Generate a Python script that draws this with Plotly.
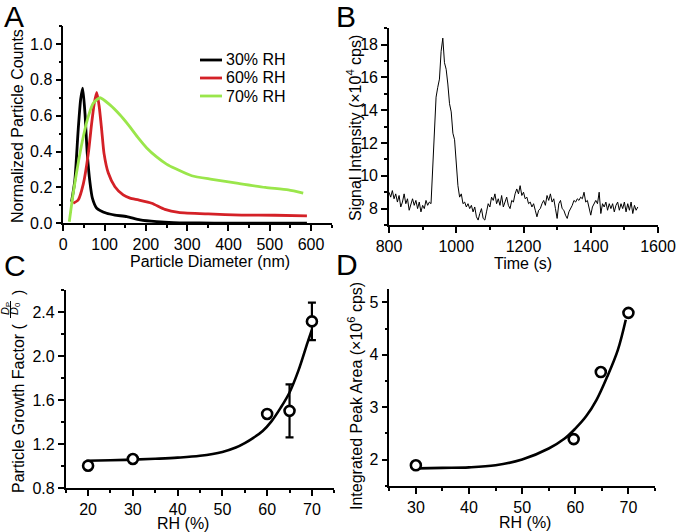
import plotly.graph_objects as go

W, H = 677, 532
FONT = "Arial, Liberation Sans, sans-serif"

# ---------------- Panel A: size distributions ----------------
diam_30 = [20, 28, 36, 42, 47, 52.6, 58, 64.7, 70.4, 81, 105, 125, 154, 186, 226, 267, 330, 400, 480, 590]
counts_30 = [0.12, 0.24, 0.52, 0.69, 0.754, 0.61, 0.39, 0.225, 0.14, 0.084, 0.056, 0.046, 0.037, 0.019, 0.009, 0.004, 0.002, 0.001, 0.001, 0.001]

diam_60 = [24, 36, 48.5, 60.6, 68.8, 75, 81, 87, 93, 98.6, 109, 125, 145, 161.6, 182, 214, 246, 279, 351, 432, 513, 590]
counts_60 = [0.112, 0.13, 0.22, 0.39, 0.56, 0.67, 0.73, 0.65, 0.52, 0.39, 0.28, 0.204, 0.158, 0.14, 0.13, 0.112, 0.078, 0.061, 0.052, 0.046, 0.045, 0.041]

diam_70 = [14.5, 24, 36, 48.5, 60.6, 72.7, 89, 113, 137, 157, 180, 202, 226, 250, 271, 311, 360, 424, 489, 545, 581]
counts_70 = [0.009, 0.168, 0.335, 0.484, 0.596, 0.67, 0.70, 0.66, 0.605, 0.55, 0.48, 0.42, 0.37, 0.33, 0.305, 0.265, 0.245, 0.222, 0.2, 0.186, 0.168]

legend_names = ["30% RH", "60% RH", "70% RH"]
legend_colors = ["#000000", "#d42127", "#9ae64b"]

# ---------------- Panel B: signal vs time ----------------
signal_1e4 = [
    9.0, 8.7, 9.1, 8.6, 8.9, 8.4, 8.8, 8.1, 8.4, 8.9, 8.3, 8.6, 7.9, 8.3, 8.6, 8.2, 8.5, 8.0, 8.4, 7.8,
    8.2, 8.0, 8.5, 8.2, 8.4, 8.3, 10.2, 12.3, 14.8, 15.4, 15.9, 17.6, 18.4, 16.9, 16.5, 15.6, 14.4, 13.9, 12.6, 12.2,
    10.8, 9.4, 8.7, 8.9, 8.3, 8.4, 8.1, 8.3, 8.0, 8.2, 7.8, 8.1, 7.5, 7.3, 7.7, 8.0, 7.4, 7.3, 7.8, 8.3,
    8.1, 8.7, 8.5, 8.9, 8.3, 8.6, 8.2, 8.8, 8.1, 8.4, 8.7, 8.2, 8.0, 8.5, 8.4, 8.9, 9.2, 8.9, 9.4, 8.8,
    9.0, 8.6, 8.7, 8.3, 8.4, 8.1, 8.3, 7.9, 7.5, 7.9, 8.0, 8.3, 8.5, 8.2, 8.8, 8.5, 8.9, 8.4, 8.6, 8.0,
    7.4, 8.3, 8.5, 8.0, 7.9, 7.6, 7.4, 7.8, 8.0, 8.2, 8.5, 8.4, 8.6, 8.5, 8.7, 8.6, 9.0, 8.4, 8.5, 8.1,
    7.6, 8.1, 8.3, 8.5, 8.3, 9.0, 7.7, 8.3, 8.1, 8.4, 7.9, 8.3, 8.0, 8.3, 7.8, 8.2, 8.4, 7.9, 8.3, 8.0,
    8.4, 7.8, 8.3, 7.9, 8.4, 7.7, 8.2, 7.9, 8.1,
]
time_s = list(range(800, 800 + 5 * len(signal_1e4), 5))

# ---------------- Panel C: growth factor ----------------
rh_c = [20, 30, 60, 65, 70]
growth = [1.005, 1.066, 1.475, 1.503, 2.315]
growth_err = [0.02, 0.02, 0.03, 0.24, 0.17]
fit_rh_c = [19.6, 25, 30, 35, 40, 45, 50, 53, 55, 57, 59, 61, 63, 65, 67, 69, 70]
fit_growth = [1.05, 1.055, 1.06, 1.068, 1.078, 1.095, 1.13, 1.17, 1.21, 1.26, 1.32, 1.41, 1.53, 1.67, 1.87, 2.12, 2.24]

# ---------------- Panel D: integrated peak area ----------------
rh_d = [30, 59.7, 64.8, 70]
peak_area = [1.89, 2.39, 3.67, 4.80]
fit_rh_d = [30.4, 35, 40, 45, 50, 55, 58, 60, 62, 64, 66, 68, 69.5]
fit_area = [1.83, 1.84, 1.85, 1.89, 2.0, 2.21, 2.40, 2.59, 2.82, 3.14, 3.58, 4.09, 4.67]


def px(x):
    return x / W


def py(y):
    return 1 - y / H


def dom_x(a, b):
    return [px(a), px(b)]


def dom_y(top, bottom):
    return [py(bottom), py(top)]


fig = go.Figure()

for xs, ys, name, col in zip([diam_30, diam_60, diam_70], [counts_30, counts_60, counts_70],
                             legend_names, legend_colors):
    fig.add_trace(go.Scatter(x=xs, y=ys, mode="lines", name=name,
                             line=dict(color=col, width=2.8, shape="spline", smoothing=0.6),
                             xaxis="x", yaxis="y", showlegend=False))

fig.add_trace(go.Scatter(x=time_s, y=signal_1e4, mode="lines", line=dict(color="black", width=1),
                         xaxis="x2", yaxis="y2", showlegend=False))

fig.add_trace(go.Scatter(x=fit_rh_c, y=fit_growth, mode="lines", line=dict(color="black", width=2.6, shape="spline"),
                         xaxis="x3", yaxis="y3", showlegend=False))
fig.add_trace(go.Scatter(x=rh_c, y=growth, mode="markers",
                         marker=dict(symbol="circle", size=10, color="white", line=dict(color="black", width=2.6)),
                         error_y=dict(type="data", array=growth_err, color="black", thickness=2.2, width=4),
                         xaxis="x3", yaxis="y3", showlegend=False))

fig.add_trace(go.Scatter(x=fit_rh_d, y=fit_area, mode="lines", line=dict(color="black", width=2.6, shape="spline"),
                         xaxis="x4", yaxis="y4", showlegend=False))
fig.add_trace(go.Scatter(x=rh_d, y=peak_area, mode="markers",
                         marker=dict(symbol="circle", size=10, color="white", line=dict(color="black", width=2.6)),
                         xaxis="x4", yaxis="y4", showlegend=False))


def ax(domain, rng, dtick, minor_dtick, anchor, tick0=None):
    d = dict(domain=domain, range=rng, dtick=dtick, showline=True, linecolor="black", linewidth=1.6,
             ticks="outside", ticklen=6, tickwidth=1.5, tickcolor="black", showgrid=False, zeroline=False,
             tickfont=dict(size=16, color="black", family=FONT), anchor=anchor, automargin=False,
             minor=dict(ticks="outside", ticklen=3, tickwidth=1.5, tickcolor="black", dtick=minor_dtick, showgrid=False))
    if tick0 is not None:
        d["tick0"] = tick0
    return d


layout = dict(
    width=W, height=H, margin=dict(l=0, r=0, t=0, b=0, pad=0, autoexpand=False),
    paper_bgcolor="white", plot_bgcolor="white",
    font=dict(family=FONT, size=16, color="black"),
    xaxis=ax(dom_x(63.3, 331.7), [0, 650], 100, 50, "y", 0),
    yaxis=ax(dom_y(26, 223.3), [0, 1.1], 0.2, 0.1, "x", 0),
    xaxis2=ax(dom_x(389, 658), [800, 1600], 200, 100, "y2", 800),
    yaxis2=ax(dom_y(28.3, 225), [7, 19], 2, 1, "x2", 8),
    xaxis3=ax(dom_x(65.7, 334.3), [15, 75], 10, 5, "y3", 20),
    yaxis3=ax(dom_y(290, 488.3), [0.8, 2.6], 0.4, 0.2, "x3", 0.8),
    xaxis4=ax(dom_x(389.3, 655), [25, 75], 10, 5, "y4", 30),
    yaxis4=ax(dom_y(289.3, 485.7), [1.5, 5.25], 1, 0.5, "x4", 2),
    showlegend=False,
)
layout["yaxis3"]["tickformat"] = ".1f"
layout["yaxis"]["tickformat"] = ".1f"
fig.update_layout(**layout)

ann = []


def text(x, y, s, size=16, angle=0, xanchor="center", **kw):
    ann.append(dict(x=px(x), y=py(y), xref="paper", yref="paper", text=s, showarrow=False, textangle=angle,
                    font=dict(size=size, family=FONT, color="black"), xanchor=xanchor, yanchor="middle", **kw))


# panel letters
text(14, 16, "A", size=30)
text(346, 16, "B", size=30)
text(15, 265, "C", size=30)
text(347, 264, "D", size=30)

# legend of panel A (line samples + labels)
for i, (name, col) in enumerate(zip(legend_names, legend_colors)):
    yy = 60 + 18 * i
    fig.add_shape(type="line", xref="paper", yref="paper", x0=px(200), x1=px(222), y0=py(yy), y1=py(yy),
                  line=dict(color=col, width=2.8))
    text(224, yy, name, xanchor="left")

# axis titles
text(18, 126, "Normalized Particle Counts", angle=-90)
text(210, 262, "Particle Diameter (nm)")
text(354, 128, "Signal Intensity (×10<sup>4</sup> cps)", angle=-90)
text(523, 263, "Time (s)")
text(183, 523.5, "RH (%)")
text(525, 522.5, "RH (%)")
text(355, 396, "Integrated Peak Area (×10<sup>6</sup> cps)", angle=-90)

# panel C y title with a stacked fraction D_P / D_0
text(18, 408, "Particle Growth Factor (", angle=-90)
text(6, 309, "<i>D</i><sub>P</sub>", size=11, angle=-90)
text(15, 309, "<i>D</i><sub>0</sub>", size=11, angle=-90)
text(18, 293, ")", angle=-90)

fig.update_layout(annotations=ann)
fig.add_shape(type="line", xref="paper", yref="paper", x0=px(10.5), x1=px(10.5), y0=py(301), y1=py(318),
              line=dict(color="black", width=1))

# remove the browser's default 8px body margin so the figure fills the window exactly
fig.write_html("out.html", config={"displayModeBar": False},
               post_script="document.body.style.margin='0';document.body.style.overflow='hidden';")
